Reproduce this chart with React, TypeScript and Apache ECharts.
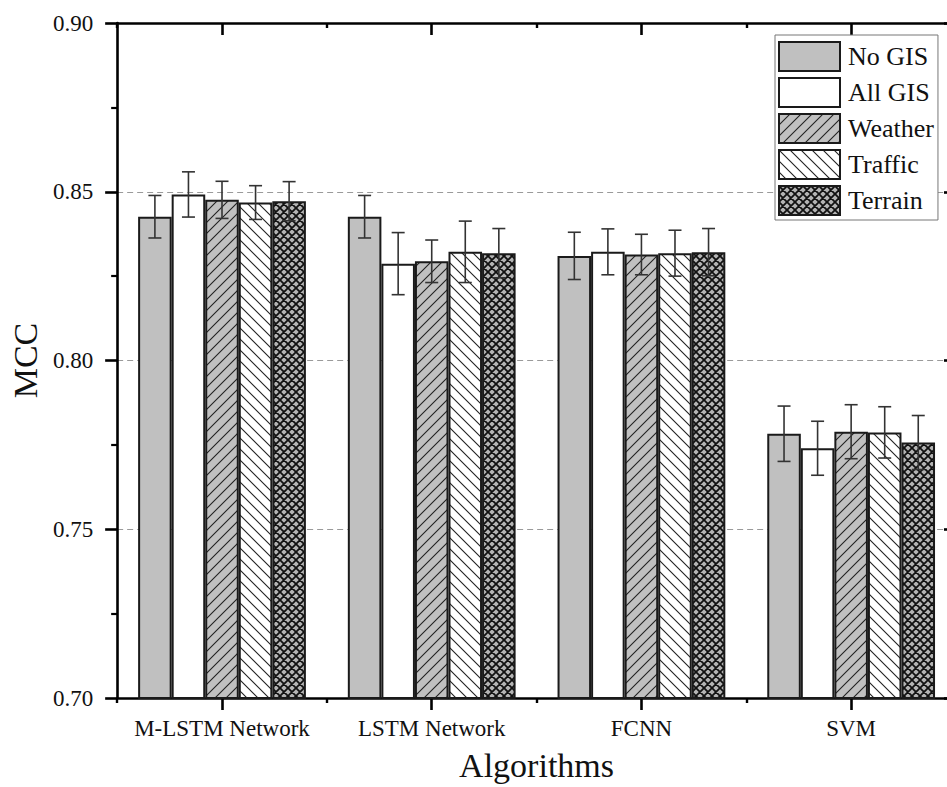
import React, { useEffect, useRef } from 'react';
import * as echarts from 'echarts';

const categories = ['M-LSTM Network', 'LSTM Network', 'FCNN', 'SVM'];
const seriesNames = ['No GIS', 'All GIS', 'Weather', 'Traffic', 'Terrain'];
const noGIS = [0.8426, 0.8426, 0.831, 0.7783];
const allGIS = [0.8492, 0.8287, 0.8322, 0.774];
const weather = [0.8476, 0.8294, 0.8314, 0.7789];
const traffic = [0.8468, 0.8322, 0.8318, 0.7787];
const terrain = [0.8472, 0.8318, 0.8321, 0.7757];
const errNoGIS = [0.0063, 0.0063, 0.007, 0.0082];
const errAllGIS = [0.0067, 0.0092, 0.0068, 0.008];
const errWeather = [0.0055, 0.0063, 0.006, 0.008];
const errTraffic = [0.005, 0.0091, 0.0068, 0.0076];
const errTerrain = [0.0058, 0.0073, 0.007, 0.008];
const yMin = 0.7;
const yMax = 0.9;
const yInterval = 0.05;

const FONT = 'Liberation Serif';

function makePattern(kind: 'fwd' | 'back' | 'cross'): HTMLCanvasElement {
  const s = kind === 'cross' ? 8 : 11;
  const c = document.createElement('canvas');
  c.width = s;
  c.height = s;
  const ctx = c.getContext('2d')!;
  ctx.fillStyle = kind === 'back' ? '#ffffff' : kind === 'cross' ? '#b4b4b4' : '#c0c0c0';
  ctx.fillRect(0, 0, s, s);
  ctx.strokeStyle = kind === 'cross' ? '#111111' : '#222222';
  ctx.lineWidth = kind === 'cross' ? 1.8 : 1.1;
  ctx.beginPath();
  if (kind === 'fwd' || kind === 'cross') {
    ctx.moveTo(0, s); ctx.lineTo(s, 0);
    ctx.moveTo(-1, 1); ctx.lineTo(1, -1);
    ctx.moveTo(s - 1, s + 1); ctx.lineTo(s + 1, s - 1);
  }
  if (kind === 'back' || kind === 'cross') {
    ctx.moveTo(0, 0); ctx.lineTo(s, s);
    ctx.moveTo(-1, s - 1); ctx.lineTo(1, s + 1);
    ctx.moveTo(s - 1, -1); ctx.lineTo(s + 1, 1);
  }
  ctx.stroke();
  return c;
}

export default function App() {
  const ref = useRef<HTMLDivElement>(null);
  useEffect(() => {
    if (!ref.current) return;
    const chart = echarts.init(ref.current, undefined, { renderer: 'svg' });
    const values = [noGIS, allGIS, weather, traffic, terrain];
    const errs = [errNoGIS, errAllGIS, errWeather, errTraffic, errTerrain];
    const fills: any[] = [
      '#c0c0c0',
      '#ffffff',
      { image: makePattern('fwd'), repeat: 'repeat' },
      { image: makePattern('back'), repeat: 'repeat' },
      { image: makePattern('cross'), repeat: 'repeat' },
    ];
    const barSeries = seriesNames.map((name, i) => ({
      name,
      type: 'bar',
      xAxisIndex: 0,
      yAxisIndex: 0,
      data: values[i],
      barGap: '0%',
      barCategoryGap: '20%',
      itemStyle: { color: fills[i], borderColor: '#1a1a1a', borderWidth: 2 },
      z: 2,
    }));
    const errSeries = seriesNames.map((name, k) => ({
      name: 'err-' + name,
      type: 'custom',
      xAxisIndex: 0,
      yAxisIndex: 0,
      z: 5,
      encode: { x: 0, y: [1, 2] },
      data: values[k].map((v, c) => [c, v - errs[k][c], v + errs[k][c]]),
      renderItem: (params: any, api: any) => {
        const cat = api.value(0);
        const lo = api.value(1);
        const hi = api.value(2);
        const bandW = api.size([1, 0])[0];
        const bw = (bandW * 0.8) / 5;
        const pLo = api.coord([cat, lo]);
        const pHi = api.coord([cat, hi]);
        const x = pLo[0] + (k - 2) * bw;
        const cap = 6.5;
        const st = { stroke: '#333333', lineWidth: 1.6 };
        return {
          type: 'group',
          children: [
            { type: 'line', shape: { x1: x, y1: pLo[1], x2: x, y2: pHi[1] }, style: st },
            { type: 'line', shape: { x1: x - cap, y1: pLo[1], x2: x + cap, y2: pLo[1] }, style: st },
            { type: 'line', shape: { x1: x - cap, y1: pHi[1], x2: x + cap, y2: pHi[1] }, style: st },
          ],
        };
      },
    }));
    const lineStyle = { color: '#000000', width: 2.6 };
    const option: any = {
      animation: false,
      backgroundColor: '#ffffff',
      textStyle: { fontFamily: FONT },
      grid: { left: 117, top: 23, width: 839, height: 678, containLabel: false },
      legend: {
        data: seriesNames,
        orient: 'vertical',
        left: 775,
        top: 35,
        icon: 'rect',
        itemWidth: 61,
        itemHeight: 29,
        itemGap: 5,
        padding: [6, 4, 4, 3],
        borderColor: '#777777',
        borderWidth: 1,
        backgroundColor: '#ffffff',
        textStyle: { fontFamily: FONT, fontSize: 26, color: '#111111', padding: [0, 0, 0, 3] },
      },
      xAxis: [
        {
          type: 'category',
          data: categories,
          position: 'bottom',
          name: 'Algorithms',
          nameLocation: 'middle',
          nameGap: 50,
          nameTextStyle: { fontFamily: FONT, fontSize: 34, color: '#111111' },
          axisLine: { show: true, lineStyle },
          axisTick: { show: true, alignWithLabel: true, length: 12, inside: false, lineStyle: { color: '#000', width: 2.6 } },
          axisLabel: { interval: 0, fontFamily: FONT, fontSize: 23, color: '#111111', margin: 19 },
          splitLine: { show: false },
        },
        {
          type: 'category',
          data: categories,
          position: 'bottom',
          axisLine: { show: false },
          axisTick: { show: true, interval: 0, alignWithLabel: false, length: 5, inside: false, lineStyle: { color: '#000', width: 2.4 } },
          axisLabel: { show: false },
          splitLine: { show: false },
        },
        {
          type: 'category',
          data: categories,
          position: 'top',
          axisLine: { show: true, lineStyle },
          axisTick: { show: true, interval: 0, alignWithLabel: true, length: 12, inside: true, lineStyle: { color: '#000', width: 2.6 } },
          axisLabel: { show: false },
          splitLine: { show: false },
        },
        {
          type: 'category',
          data: categories,
          position: 'top',
          axisLine: { show: false },
          axisTick: { show: true, interval: 0, alignWithLabel: false, length: 5, inside: true, lineStyle: { color: '#000', width: 2.4 } },
          axisLabel: { show: false },
          splitLine: { show: false },
        },
      ],
      yAxis: [
        {
          type: 'value',
          position: 'left',
          min: yMin,
          max: yMax,
          interval: yInterval,
          name: 'MCC',
          nameLocation: 'middle',
          nameGap: 57,
          nameTextStyle: { fontFamily: FONT, fontSize: 34, color: '#111111' },
          axisLine: { show: true, lineStyle },
          axisTick: { show: true, length: 12, inside: false, lineStyle: { color: '#000', width: 2.6 } },
          minorTick: { show: true, splitNumber: 2, length: 6, lineStyle: { color: '#000', width: 2.2 } },
          axisLabel: { fontFamily: FONT, fontSize: 23, color: '#111111', margin: 24, formatter: (v: number) => v.toFixed(2) },
          splitLine: { show: true, lineStyle: { color: '#9a9a9a', width: 1, type: [6, 4] } },
        },
        {
          type: 'value',
          position: 'right',
          min: yMin,
          max: yMax,
          interval: yInterval,
          axisLine: { show: false },
          axisTick: { show: true, length: 12, inside: true, lineStyle: { color: '#000', width: 2.6 } },
          minorTick: { show: true, splitNumber: 2, length: 6, lineStyle: { color: '#000', width: 2.2 } },
          axisLabel: { show: false },
          splitLine: { show: false },
        },
      ],
      series: [...barSeries, ...errSeries],
    };
    chart.setOption(option);
    return () => chart.dispose();
  }, []);
  return (
    <div style={{ position: 'fixed', left: 0, top: 0, width: 947, height: 787, overflow: 'hidden', background: '#fff' }}>
      <div ref={ref} style={{ width: 975, height: 787 }} />
    </div>
  );
}
